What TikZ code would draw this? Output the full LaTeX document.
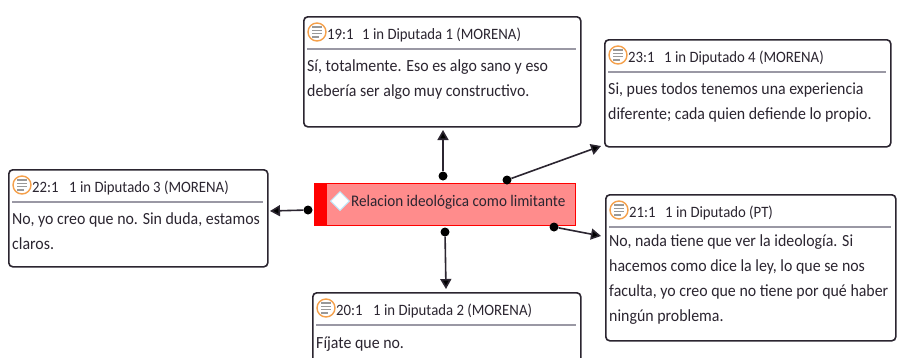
\documentclass[tikz,border=0pt]{standalone}
\usepackage{fontspec}
\setmainfont[FakeStretch=0.935]{Carlito}
\usetikzlibrary{arrows.meta,shapes.geometric}
\definecolor{ink}{HTML}{2B2530}
\definecolor{rulegray}{HTML}{9A98A4}
\definecolor{ringorange}{HTML}{F5A04A}
\tikzset{
  x=1pt,y=-1pt,
  quotebox/.style={draw=ink,line width=1.6pt,rounded corners=4pt,fill=white,anchor=north west,inner sep=0pt},
  headtext/.style={anchor=base west,inner sep=0pt,text=ink,font=\fontsize{15.8}{16}\selectfont},
  bodytext/.style={anchor=north west,inner sep=0pt,align=left,text=ink,font=\fontsize{17}{25}\selectfont},
  ring/.style={circle,draw=ringorange,line width=1.4pt,fill=white,minimum size=18pt,inner sep=0pt},
  dot/.style={circle,fill=black,minimum size=9pt,inner sep=0pt},
  link/.style={draw=ink,line width=1.6pt,-{Triangle[length=10pt,width=11pt,fill=black]}},
  header rule/.style={draw=rulegray,line width=1.2pt},
  lines/.style={draw=gray!80,line width=1.2pt},
}
\newcommand{\bodydrop}{43.5}
\newcommand{\quotecard}[9]{%
  % #1 name, #2 x, #3 y, #4 width, #5 height, #6 id, #7 header, #8 body, #9 header gap
  \node[quotebox,minimum width=#4pt,minimum height=#5pt] (#1) at (#2,#3) {};
  \node[ring] (#1ring) at (#2+14,#3+16) {};
  \draw[lines] (#2+9,#3+11) -- (#2+19,#3+11) (#2+9,#3+14.3) -- (#2+19,#3+14.3) (#2+9,#3+17.6) -- (#2+19,#3+17.6) (#2+9,#3+21) -- (#2+16,#3+21);
  \node[headtext] (#1id) at (#2+24,#3+23) {#6};
  \node[headtext] (#1head) at (#2+#9,#3+23) {#7};
  \draw[header rule] (#2+4,#3+33) -- (#2+#4-4,#3+33);
  \node[bodytext] (#1body) at (#2+4,#3+\bodydrop) {#8};
}
\begin{document}
\begin{tikzpicture}
\useasboundingbox (0,0) rectangle (899,357);
\fill[white] (0,0) rectangle (899,357);

\quotecard{a}{303}{16}{277}{110}{19:1}{1 in Diputada 1 (MORENA)}{Sí, totalmente. Eso es algo sano y eso\\debería ser algo muy constructivo.}{59}
\quotecard{b}{604}{39}{286}{107}{23:1}{1 in Diputado 4 (MORENA)}{Si, pues todos tenemos una experiencia\\diferente; cada quien defiende lo propio.}{60}
\quotecard{c}{8}{169}{259}{97}{22:1}{1 in Diputado 3 (MORENA)}{No, yo creo que no. Sin duda, estamos\\claros.}{61}
\renewcommand{\bodydrop}{40}
\quotecard{d}{605}{194}{290}{146}{21:1}{1 in Diputado (PT)}{No, nada tiene que ver la ideología. Si\\hacemos como dice la ley, lo que se nos\\faculta, yo creo que no tiene por qué haber\\ningún problema.}{60}
\renewcommand{\bodydrop}{44.5}

\begin{scope}
\clip (0,0) rectangle (899,357);
\quotecard{e}{312}{292}{268}{90}{20:1}{1 in Diputada 2 (MORENA)}{Fíjate que no.}{61}
\end{scope}

\node[draw=red,line width=1.2pt,fill=red!45!white,anchor=north west,minimum width=261pt,minimum height=42pt,inner sep=0pt] (code) at (314,183) {};
\fill[red] (314,183) rectangle (327,225);
\node[diamond,draw=cyan!25!white,fill=white,line width=1pt,minimum size=19pt,inner sep=0pt] (codeicon) at (340,201) {};
\node[anchor=west,inner sep=0pt,text=ink,font=\fontsize{16.2}{16}\selectfont] (codetext) at (351,202.5) {Relacion ideológica como limitante};

\node[dot] (d1) at (443,176) {};
\node[dot] (d2) at (507,180) {};
\node[dot] (d3) at (554,227) {};
\node[dot] (d4) at (445,232) {};
\node[dot] (d5) at (308,210) {};
\coordinate (t1) at (443,130);
\coordinate (t2) at (601,146);
\coordinate (t3) at (601,236);
\coordinate (t4) at (446,289);
\coordinate (t5) at (270,211);
\draw[link] (d1) -- (t1);
\draw[link] (d2) -- (t2);
\draw[link] (d3) -- (t3);
\draw[link] (d4) -- (t4);
\draw[link] (d5) -- (t5);
\end{tikzpicture}
\end{document}
